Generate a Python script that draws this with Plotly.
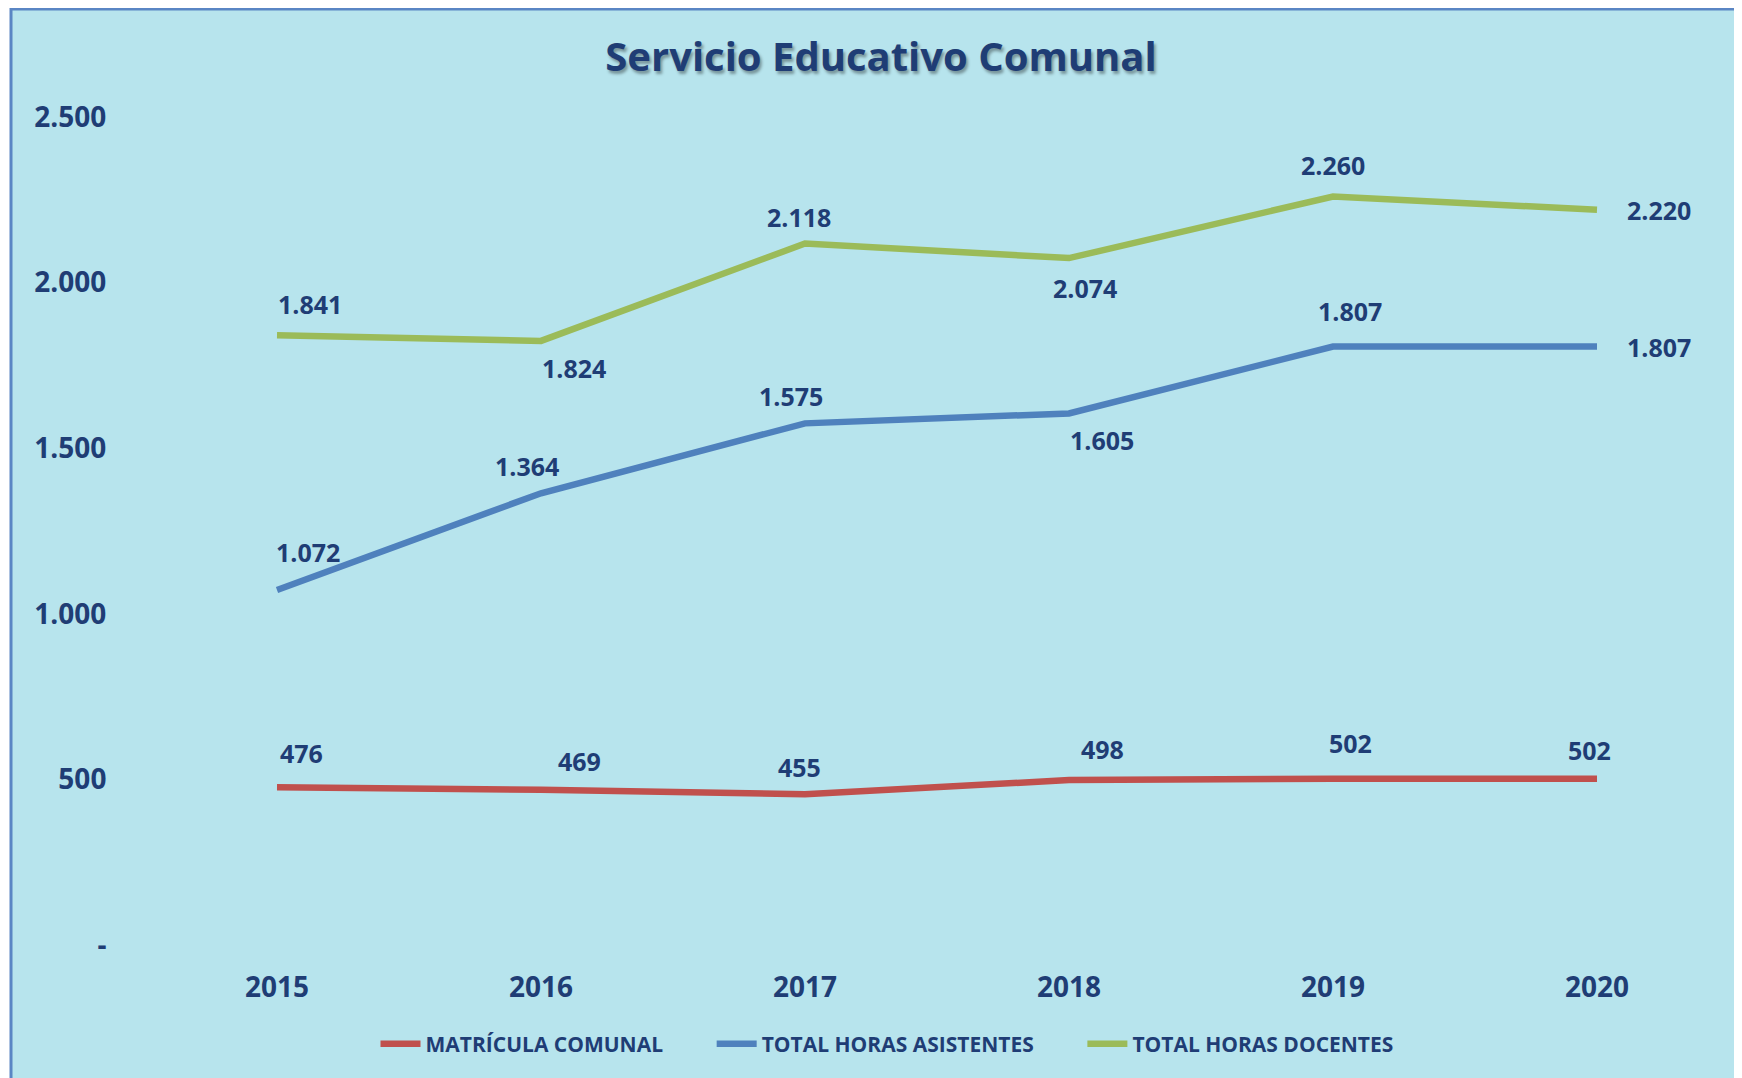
import plotly.graph_objects as go

# ---------------- data ----------------
years = ["2015", "2016", "2017", "2018", "2019", "2020"]
matricula = [476, 469, 455, 498, 502, 502]
horas_asistentes = [1072, 1364, 1575, 1605, 1807, 1807]
horas_docentes = [1841, 1824, 2118, 2074, 2260, 2220]
series_names = ["MATRÍCULA COMUNAL", "TOTAL HORAS ASISTENTES", "TOTAL HORAS DOCENTES"]
y_tick_values = [0, 500, 1000, 1500, 2000, 2500]
y_tick_labels = ["-", "500", "1.000", "1.500", "2.000", "2.500"]
title_text = "Servicio Educativo Comunal"

# ---------------- style ----------------
W, H = 1742, 1078
OFF = 8  # page body margin offset
ML, MT = 145 - OFF, 117 - OFF
PW, PH = 1584, 828
MR = W - ML - PW
MB = H - MT - PH
TEXT = "#1f3d75"
BG = "#b7e4ed"
colors = ["#c0504d", "#4f81bd", "#9bbb59"]
FONT = "Open Sans"
pads = ["\u00a0" * 8, "\u00a0" * 8, ""]

# label placement codes -> pixel shifts (xshift, yshift)
shift = {
    "N": (0, 31), "Nl": (-6, 27), "Nh": (-8, 29), "NE": (33, 31), "NEr": (38, 29),
    "NEs": (17, 36), "NEh": (24, 34), "NW": (-14, 27),
    "S": (0, -28), "SE": (33, -27), "SEs": (16, -30), "E": (62, 0),
    "NEb": (31, 38),
}
place_red = ["NEh", "NEr", "Nl", "NE", "NEs", "Nh"]
place_blue = ["NEb", "NW", "NW", "SE", "NEs", "E"]
place_green = ["NE", "SE", "Nl", "SEs", "N", "E"]

fig = go.Figure()
all_series = [matricula, horas_asistentes, horas_docentes]
all_places = [place_red, place_blue, place_green]
for name, pad, vals, col in zip(series_names, pads, all_series, colors):
    fig.add_trace(go.Scatter(
        x=years, y=vals, mode="lines", name=name + pad,
        line=dict(color=col, width=6.5, shape="linear"),
        hoverinfo="x+y",
    ))

annotations = []
for vals, places in zip(all_series, all_places):
    for i, (yv, p) in enumerate(zip(vals, places)):
        dx, dy = shift[p]
        annotations.append(dict(
            x=i, y=yv, xref="x", yref="y", showarrow=False,
            text=f"{yv:,}".replace(",", "."),
            xshift=dx, yshift=dy,
            font=dict(family=FONT, size=25, color=TEXT, weight="bold"),
        ))

# background panel with blue border (extends past right/bottom edges)
fig.add_shape(
    type="rect", xref="paper", yref="paper", layer="below",
    x0=(11 - OFF - ML) / PW, x1=(W + 20 - ML) / PW,
    y0=-(H + 20 - (H - MB)) / PH, y1=1 + (MT - (9 - OFF)) / PH,
    line=dict(color="#5a86c4", width=3), fillcolor=BG,
)

fig.update_layout(
    width=W, height=H,
    margin=dict(l=ML, r=MR, t=MT, b=MB),
    paper_bgcolor="white", plot_bgcolor="rgba(0,0,0,0)",
    title=dict(
        text=title_text, x=(881 - OFF) / W, xanchor="center", xref="container",
        y=1 - (57 - OFF) / H, yanchor="middle", yref="container",
        font=dict(family=FONT, size=40, color=TEXT, weight="bold",
                  shadow="2px 3px 3px rgba(0,0,0,0.35)"),
    ),
    showlegend=True,
    legend=dict(
        orientation="h", x=(887 - OFF) / W, xanchor="center", xref="container",
        y=1 - (1044 - OFF) / H, yanchor="middle", yref="container",
        font=dict(family=FONT, size=21, color=TEXT, weight="bold"),
        bgcolor="rgba(0,0,0,0)", itemwidth=40, traceorder="normal",
    ),
    annotations=annotations,
    xaxis=dict(
        type="category", range=[-0.5, 5.5], showgrid=False, zeroline=False,
        showline=False, ticks="outside", ticklen=17, tickcolor="rgba(0,0,0,0)",
        tickfont=dict(family=FONT, size=28, color=TEXT, weight="bold"),
    ),
    yaxis=dict(
        range=[0, 2500], tickvals=y_tick_values, ticktext=y_tick_labels,
        showgrid=False, zeroline=False, showline=False,
        ticks="outside", ticklen=32, tickcolor="rgba(0,0,0,0)",
        tickfont=dict(family=FONT, size=28, color=TEXT, weight="bold"),
    ),
)

fig.write_html("out.html")
